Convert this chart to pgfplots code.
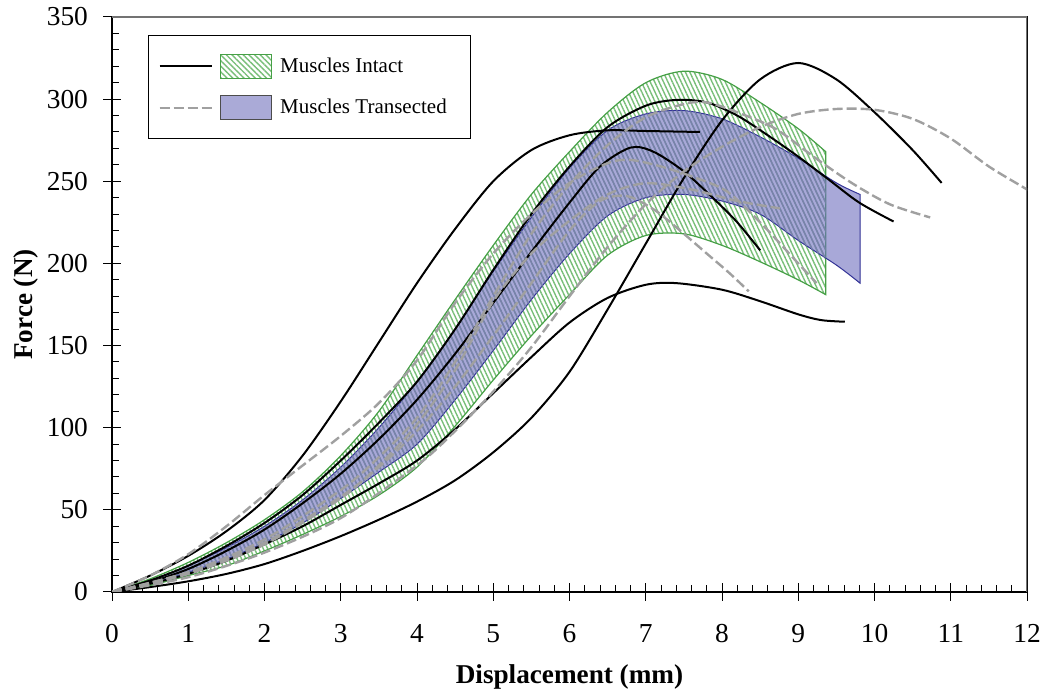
\documentclass[border=0pt]{standalone}
\usepackage{fontspec}
\setmainfont{Liberation Serif}
\usepackage{pgfplots}
\pgfplotsset{compat=1.18}
\usepgfplotslibrary{fillbetween}
\usetikzlibrary{patterns.meta}
\definecolor{hatchgreen}{RGB}{120,190,120}
\definecolor{hatchblue}{RGB}{120,130,170}
\definecolor{edgegreen}{RGB}{70,160,70}
\definecolor{bandblue}{RGB}{110,110,190}
\definecolor{edgeblue}{RGB}{50,50,150}
\definecolor{swatchblue}{RGB}{170,170,215}
\definecolor{dashgray}{RGB}{160,160,160}
\begin{document}
\begin{tikzpicture}
\begin{axis}[
  scale only axis, width=457.5pt, height=287.5pt,
  xmin=0, xmax=12, ymin=0, ymax=350,
  xtick distance=1, ytick distance=50,
  minor x tick num=4, minor y tick num=4,
  xtick pos=bottom, ytick pos=left,
  tick align=center,
  major tick length=9pt, minor tick length=3.5pt,
  every minor x tick/.append style={yshift=1.75pt},
  every minor y tick/.append style={xshift=1.75pt},
  tick style={black, line width=0.5pt},
  axis line style={black, line width=0.6pt},
  /pgf/number format/assume math mode=true,
  ticklabel style={font=\fontsize{13.7}{16}\selectfont},
  xticklabel style={yshift=-8pt},
  yticklabel style={xshift=-4pt},
  xlabel={\textbf{Displacement (mm)}},
  ylabel={\textbf{Force (N)}},
  label style={font=\fontsize{13.6}{16}\selectfont},
  xlabel style={at={(axis description cs:0.5,0)}, anchor=base, yshift=-46pt},
  ylabel style={at={(axis description cs:0,0.5)}, anchor=base, yshift=39.5pt},
  legend style={at={(rel axis cs:0.0393,0.9687)}, anchor=north west, draw=black, line width=0.5pt,
    font=\fontsize{10.5}{12}\selectfont, inner xsep=5pt, inner ysep=9pt, row sep=8pt,
    cells={anchor=west}},
]
% ---- Muscles Intact band (mean +/- SD), hatched green
\addplot[name path=gu, draw=none, smooth, forget plot] coordinates {
(0,0) (0.5,8) (1,18) (1.5,30) (2,44) (2.5,61) (3,83) (3.5,110) (4,144) (4.5,178) (5,211) (5.5,242) (6,268) (6.5,292) (7,310) (7.5,317) (8,312) (8.5,298) (9,282) (9.36,268)};
\addplot[name path=gl, draw=none, smooth, forget plot] coordinates {
(0,0) (0.5,4) (1,10) (1.5,16) (2,25) (2.5,35) (3,46) (3.5,59) (4,76) (4.5,101) (5,129) (5.5,156) (6,181) (6.5,205) (7,217) (7.5,218) (8,211) (8.5,201) (9,190) (9.36,181)};
\addplot[forget plot, draw=edgegreen, line width=0.6pt, pattern={Lines[angle=-65, distance=2pt, line width=0.7pt]}, pattern color=hatchgreen] fill between[of=gu and gl];
% ---- Muscles Intact specimens
\addplot[black, line width=1pt, smooth, forget plot] coordinates {
(0,0) (0.5,10) (1,22) (1.5,37) (2,56) (2.5,83) (3,116) (3.5,152) (4,188) (4.5,221) (5,250) (5.5,269) (6,278) (6.5,281) (7,280.6) (7.71,280)};
\addplot[black, line width=1pt, smooth, forget plot] coordinates {
(0,0) (0.5,3) (1,6.5) (1.5,11) (2,17) (2.5,25) (3,34) (3.5,44) (4,55) (4.5,68) (5,85) (5.5,106) (6,134) (6.5,172) (7,212) (7.5,252) (8,287) (8.5,312) (9,322) (9.5,312) (10,292) (10.5,269) (10.88,249)};
\addplot[black, line width=1pt, smooth, forget plot] coordinates {
(0,0) (0.5,5) (1,11) (1.5,19) (2,29) (2.5,40) (3,53) (3.5,66) (4,80) (4.5,99) (5,121) (5.5,143) (6,164) (6.5,179) (7,187) (7.4,188) (8,184) (8.5,177) (9,169) (9.3,165.5) (9.61,164.5)};
\addplot[black, line width=1pt, smooth, forget plot] coordinates {
(0,0) (0.5,7) (1,16) (1.5,28) (2,42) (2.5,59) (3,80) (3.5,103) (4,128) (4.5,160) (5,196) (5.5,230) (6,259) (6.5,283) (7,296) (7.4,299.5) (7.8,298) (8.2,290) (8.6,278) (9,265) (9.4,251) (9.8,237) (10.25,225.5)};
\addplot[black, line width=1pt, smooth, forget plot] coordinates {
(0,0) (0.5,6) (1,14) (1.5,25) (2,38) (2.5,54) (3,72) (3.5,93) (4,117) (4.5,145) (5,176) (5.5,207) (6,237) (6.4,259) (6.8,270.5) (7.1,268) (7.5,256) (7.9,239) (8.2,225) (8.5,208)};
% ---- Muscles Transected specimens
\addplot[dashgray, line width=1.2pt, dash pattern=on 5pt off 2pt, smooth, forget plot] coordinates {
(0,0) (1,9) (2,24) (3,45) (4,77) (4.5,98) (5,122) (5.5,149) (6,180) (6.5,210) (7,236) (7.5,256) (8,271) (8.5,283) (9,291) (9.5,294) (10,293.5) (10.5,288) (11,276) (11.5,259) (12,245) (12.05,243)};
\addplot[dashgray, line width=1.2pt, dash pattern=on 5pt off 2pt, smooth, forget plot] coordinates {
(0,0) (1,12) (2,32) (3,62) (3.5,82) (4,106) (4.5,140) (5,180) (5.5,218) (6,248) (6.5,272) (7,289) (7.5,297) (7.8,298) (8.2,292) (8.7,282) (9.2,265) (9.7,249) (10.2,236) (10.73,228)};
\addplot[dashgray, line width=1.2pt, dash pattern=on 5pt off 2pt, smooth, forget plot] coordinates {
(0,0) (1,12) (2,30) (3,58) (3.5,76) (4,98) (4.5,125) (5,156) (5.5,188) (6,220) (6.4,238) (6.75,241) (7.1,233) (7.4,222) (7.8,206) (8.1,194) (8.35,183)};
\addplot[dashgray, line width=1.2pt, dash pattern=on 5pt off 2pt, smooth, forget plot] coordinates {
(0,0) (1,11) (2,29) (3,57) (3.5,77) (4,102) (4.5,135) (5,177) (5.5,206) (6,226) (6.5,242) (7,248.8) (7.6,245) (8.2,238) (8.76,233.5)};
\addplot[dashgray, line width=1.2pt, dash pattern=on 5pt off 2pt, smooth, forget plot] coordinates {
(0,0) (0.5,10) (1,23) (1.5,40) (2,59) (2.5,77) (3,95) (3.5,115) (4,141) (4.5,176) (5,206) (5.5,230) (6,249) (6.5,261) (6.8,263) (7.2,259) (7.6,253) (8.06,244) (8.5,225) (9,200) (9.24,188)};
% ---- Muscles Transected band (mean +/- SD), blue
\addplot[name path=bu, draw=none, smooth, forget plot] coordinates {
(0,0) (0.5,7) (1,16) (1.5,27) (2,40) (2.5,56) (3,76) (3.5,100) (4,128) (4.5,160) (5,195) (5.5,228) (6,258) (6.5,281) (7,291) (7.5,293) (8,288) (8.5,277) (9,264) (9.5,249) (9.81,242)};
\addplot[name path=bl, draw=none, smooth, forget plot] coordinates {
(0,0) (0.5,5) (1,12) (1.5,20) (2,30) (2.5,42) (3,57) (3.5,73) (4,90) (4.5,117) (5,147) (5.5,178) (6,206) (6.5,229) (7,240) (7.5,242) (8,238) (8.5,230) (9,214) (9.5,199) (9.81,188)};
\addplot[forget plot, draw=edgeblue, line width=0.5pt, fill=bandblue, fill opacity=0.6] fill between[of=bu and bl];
\addplot[forget plot, draw=none, pattern={Lines[angle=-65, distance=2pt, line width=0.7pt]}, pattern color=hatchblue, fill opacity=0.7] fill between[of=bu and bl, soft clip={domain=0:9.36}];
% ---- legend entries
\addlegendimage{legend image code/.code={
  \draw[black, line width=1pt] (0pt,0pt) -- (26pt,0pt);
  \draw[edgegreen, line width=0.6pt, pattern={Lines[angle=-45, distance=2pt, line width=0.7pt]}, pattern color=hatchgreen] (30.5pt,-6pt) rectangle (56pt,6pt);
  \path (58pt,0pt);}}
\addlegendentry{Muscles Intact}
\addlegendimage{legend image code/.code={
  \draw[dashgray, line width=1.2pt, dash pattern=on 5pt off 2pt] (0pt,0pt) -- (26pt,0pt);
  \draw[black!70, line width=0.6pt, fill=swatchblue] (30.5pt,-6pt) rectangle (56pt,6pt);
  \path (58pt,0pt);}}
\addlegendentry{Muscles Transected\kern5pt\mbox{}}
\draw[black!55, line width=0.6pt] (rel axis cs:0,1) -- (rel axis cs:1,1) -- (rel axis cs:1,0);
\end{axis}
\pgfresetboundingbox
\path (-56pt,-51pt) rectangle (465.5pt,296pt);
\end{tikzpicture}
\end{document}
